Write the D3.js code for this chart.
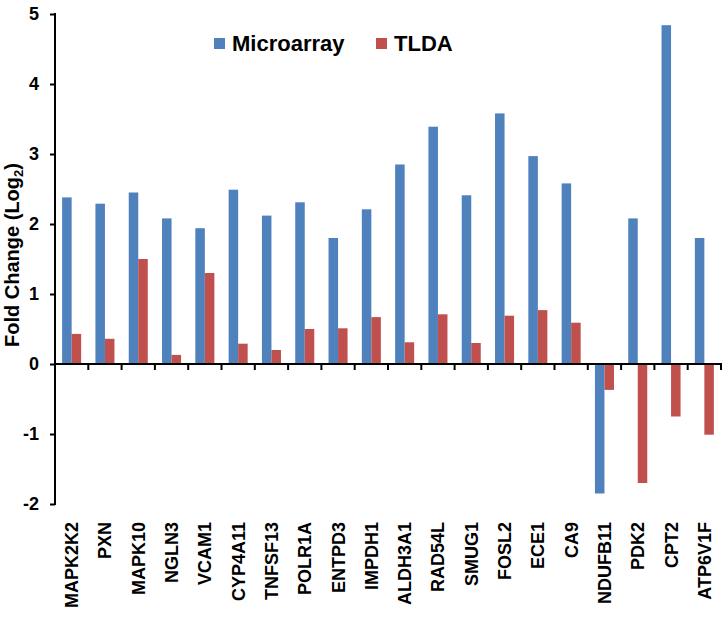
<!DOCTYPE html>
<html>
<head>
<meta charset="utf-8">
<script src="https://cdn.jsdelivr.net/npm/d3@7"></script>
<style>
  body { margin: 0; background: #fff; }
  svg text { font-family: "Liberation Sans", Arial, sans-serif; font-weight: bold; fill: #000; }
</style>
</head>
<body>
<div id="chart"></div>
<script>
// gene names along the x axis
const categories = ['MAPK2K2', 'PXN', 'MAPK10', 'NGLN3', 'VCAM1', 'CYP4A11', 'TNFSF13', 'POLR1A',
  'ENTPD3', 'IMPDH1', 'ALDH3A1', 'RAD54L', 'SMUG1', 'FOSL2', 'ECE1', 'CA9', 'NDUFB11', 'PDK2', 'CPT2', 'ATP6V1F'];
const seriesNames = ['Microarray', 'TLDA'];
const microarray = [2.38, 2.29, 2.45, 2.08, 1.94, 2.49, 2.12, 2.31, 1.80, 2.21, 2.85, 3.39, 2.41, 3.58, 2.97, 2.58, -1.85, 2.08, 4.84, 1.80];
const tlda = [0.43, 0.36, 1.50, 0.13, 1.30, 0.29, 0.20, 0.50, 0.51, 0.67, 0.31, 0.71, 0.30, 0.69, 0.77, 0.59, -0.37, -1.70, -0.75, -1.01];
const yTicks = [-2, -1, 0, 1, 2, 3, 4, 5];
const colors = ['#4F81BD', '#C0504D'];

const width = 727, height = 622;
const plot = {left: 55, right: 721, top: 14, bottom: 504};

const svg = d3.select('#chart').append('svg')
    .attr('width', width)
    .attr('height', height);

const x0 = d3.scaleBand()
    .domain(categories)
    .range([plot.left, plot.right]);

// Excel style: gap width 150% between groups
const barW = x0.bandwidth() / 3.5;
const x1 = d3.scaleBand()
    .domain(seriesNames)
    .range([barW * 0.75, x0.bandwidth() - barW * 0.75]);

const y = d3.scaleLinear()
    .domain([-2, 5])
    .range([plot.bottom, plot.top]);

const rows = categories.map((c, i) => ({cat: c, values: [microarray[i], tlda[i]]}));

// bars
const groups = svg.append('g')
  .selectAll('g')
  .data(rows)
  .join('g')
    .attr('transform', d => 'translate(' + x0(d.cat) + ',0)');

groups.selectAll('rect')
  .data(d => d.values.map((v, j) => ({name: seriesNames[j], v: v, j: j})))
  .join('rect')
    .attr('x', d => x1(d.name))
    .attr('width', x1.bandwidth())
    .attr('y', d => y(Math.max(0, d.v)))
    .attr('height', d => Math.abs(y(d.v) - y(0)))
    .attr('fill', d => colors[d.j]);

// y axis
const yAxis = svg.append('g')
    .attr('transform', 'translate(' + plot.left + ',0)')
    .call(d3.axisLeft(y).tickValues(yTicks).tickFormat(d => String(d)).tickSize(5).tickPadding(11));
yAxis.select('.domain').attr('stroke', '#000').attr('stroke-width', 2)
    .attr('d', 'M0,' + (plot.top - 1) + 'V' + (plot.bottom + 1));
yAxis.selectAll('.tick line').attr('stroke', '#000').attr('stroke-width', 2);
yAxis.selectAll('.tick text').attr('font-size', 18);

// x axis at zero, ticks between categories
const xAxis = svg.append('g')
    .attr('transform', 'translate(0,' + y(0) + ')');
xAxis.append('line')
    .attr('x1', plot.left).attr('x2', plot.right + 1)
    .attr('stroke', '#000').attr('stroke-width', 2);
xAxis.selectAll('.sep')
  .data(categories)
  .join('line')
    .attr('class', 'sep')
    .attr('x1', d => x0(d) + x0.bandwidth())
    .attr('x2', d => x0(d) + x0.bandwidth())
    .attr('y1', 0).attr('y2', 6)
    .attr('stroke', '#000').attr('stroke-width', 2);

// category labels, rotated
svg.append('g')
  .selectAll('text')
  .data(categories)
  .join('text')
    .attr('transform', d => 'translate(' + (x0(d) + x0.bandwidth() / 2) + ',522) rotate(-90)')
    .attr('text-anchor', 'end')
    .attr('dy', '0.36em')
    .attr('font-size', 18)
    .text(d => d);

// y axis title
const title = svg.append('text')
    .attr('transform', 'translate(19,255) rotate(-90)')
    .attr('text-anchor', 'middle')
    .attr('font-size', 20);
title.append('tspan').text('Fold Change (Log');
title.append('tspan').attr('font-size', 13).attr('dy', 4).text('2');
title.append('tspan').attr('dy', -4).text(')');

// legend
const legendX = [214, 376];
const legend = svg.append('g')
  .selectAll('g')
  .data(seriesNames)
  .join('g')
    .attr('transform', (d, i) => 'translate(' + legendX[i] + ',38)');
legend.append('rect')
    .attr('width', 11).attr('height', 11)
    .attr('fill', (d, i) => colors[i]);
legend.append('text')
    .attr('x', 18).attr('y', 13)
    .attr('font-size', 22)
    .text(d => d);
</script>
</body>
</html>
